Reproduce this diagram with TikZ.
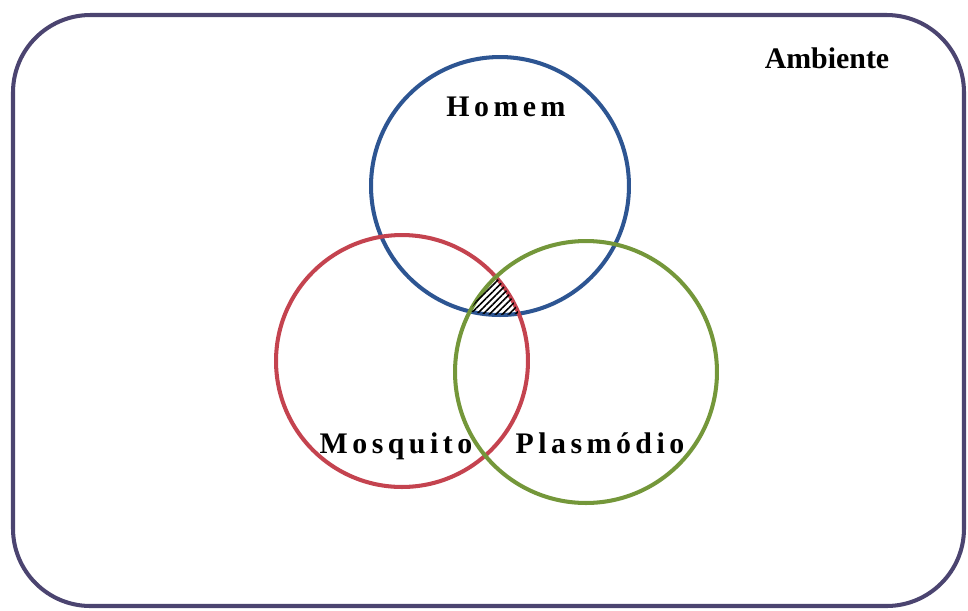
\documentclass[tikz,border=0pt]{standalone}
\usepackage{fontspec}
\setmainfont{Liberation Serif}
\newfontfamily\spaced[LetterSpace=15]{Liberation Serif}
\usetikzlibrary{patterns.meta}
\definecolor{frame}{HTML}{4B4470}
\definecolor{cblue}{HTML}{2D5592}
\definecolor{cred}{HTML}{C4434F}
\definecolor{cgreen}{HTML}{74973A}
\tikzset{
  ring/.style={circle, draw, line width=2.3pt, inner sep=0pt},
  lab/.style={font=\spaced\bfseries\fontsize{17}{20}\selectfont, anchor=base, inner sep=0pt},
}
\begin{document}
\begin{tikzpicture}[x=0.02cm, y=-0.02cm]
\useasboundingbox (0,0) rectangle (968,610);
\draw[frame, line width=2.3pt, rounded corners=1.55cm] (13,15) rectangle (964,606);
\node[ring, draw=cblue, minimum size=5.16cm] (H) at (500,186) {};
\node[ring, draw=cred, minimum size=5.04cm] (M) at (402,361) {};
\node[ring, draw=cgreen, minimum size=5.24cm] (P) at (586,372) {};
\begin{scope}
  \clip (H.center) circle (2.58cm);
  \clip (M.center) circle (2.52cm);
  \clip (P.center) circle (2.62cm);
  \fill[pattern={Lines[angle=45, distance=2.6pt, line width=0.9pt]}, pattern color=black] (400,250) rectangle (600,350);
\end{scope}
\node[lab] (tH) at (506,116) {Homem};
\node[lab] (tM) at (396,453) {Mosquito};
\node[lab] (tP) at (600,453) {Plasmódio};
\node[font=\bfseries\fontsize{17}{20}\selectfont, anchor=base, inner sep=0pt] (tA) at (827,68) {Ambiente};
\end{tikzpicture}
\end{document}
